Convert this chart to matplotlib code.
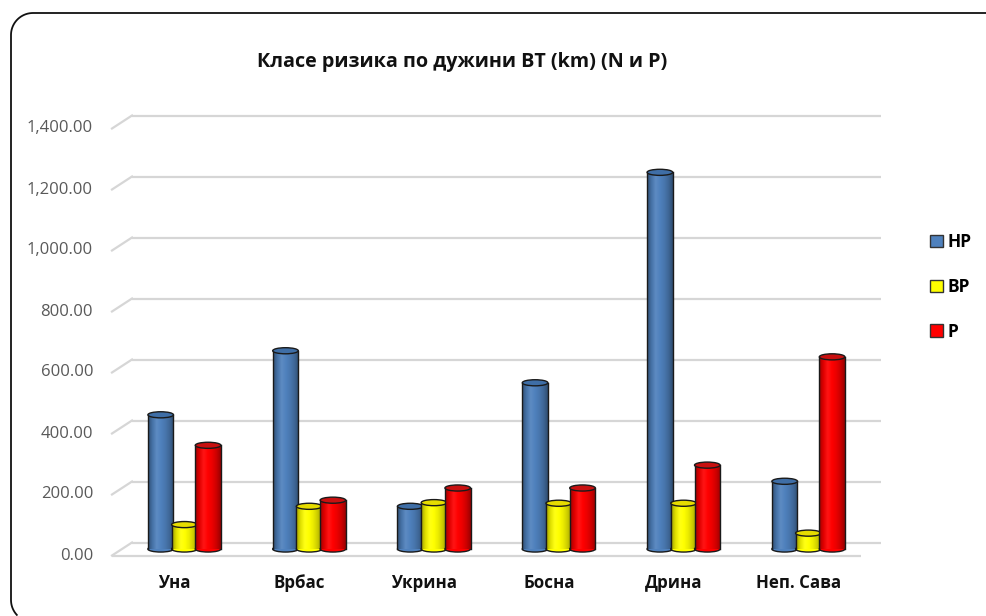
import matplotlib
matplotlib.use("Agg")
import matplotlib.pyplot as plt
import numpy as np
from matplotlib.patches import Ellipse, Patch
from matplotlib.transforms import offset_copy, IdentityTransform
from matplotlib.colors import LinearSegmentedColormap, to_rgb

plt.rcParams['font.family'] = ['Open Sans', 'DejaVu Sans']

# --- data -------------------------------------------------------------
title = "Класе ризика по дужини ВТ (km) (N и P)"
categories = ["Уна", "Врбас", "Укрина", "Босна", "Дрина", "Неп. Сава"]
series_names = ["НР", "ВР", "Р"]
hp_values = [440, 650, 140, 545, 1235, 222]
bp_values = [80, 140, 152, 150, 150, 52]
p_values = [340, 160, 200, 200, 275, 630]
y_ticks = [0, 200, 400, 600, 800, 1000, 1200, 1400]

series_values = [hp_values, bp_values, p_values]
side_colors = ["#4f81bd", "#ffff00", "#ff0000"]
top_colors = ["#3f6ea6", "#e6dc00", "#c81010"]

# --- figure -----------------------------------------------------------
W, H = 987, 616
fig = plt.figure(figsize=(W / 100, H / 100), dpi=100)
fig.patch.set_facecolor("white")

# rounded chart-area border: top edge, left edge and the two left corners
r = 22
left_x, top_y, bot_y = 11, H - 13, -6
t1 = np.linspace(np.pi / 2, np.pi, 20)
t2 = np.linspace(np.pi, 1.5 * np.pi, 20)
bx = np.concatenate([[W - 1], left_x + r + r * np.cos(t1),
                     left_x + r + r * np.cos(t2)])
by = np.concatenate([[top_y], top_y - r + r * np.sin(t1),
                     bot_y + r + r * np.sin(t2)])
keep = by >= 0
fig.add_artist(plt.Line2D(bx[keep], by[keep], transform=IdentityTransform(),
                          color="#111111", lw=1.3))

# plot area at mid depth of the 3-D box
ax = fig.add_axes([122 / W, 67 / H, 748.8 / W, 427 / H])
ax.set_xlim(-0.5, len(categories) - 0.5)
ax.set_ylim(0, 1400)
ax.axis("off")

depth_dx, depth_dy = 10, 6.5
back = offset_copy(ax.transData, fig, x=depth_dx, y=depth_dy, units="dots")
front = offset_copy(ax.transData, fig, x=-depth_dx, y=-depth_dy, units="dots")

grid_color = "#d6d6d6"
x0, x1 = -0.5, len(categories) - 0.5
for v in y_ticks:
    ax.plot([x0, x1], [v, v], transform=back, color=grid_color,
            lw=1.6, clip_on=False, zorder=0, solid_capstyle="butt")
    pf = front.transform((x0, v))
    pb = back.transform((x0, v))
    fig.add_artist(plt.Line2D([pf[0], pb[0]], [pf[1], pb[1]],
                              transform=IdentityTransform(),
                              color=grid_color, lw=1.6))
    ax.text(x0, v, f"{v:,.2f}",
            transform=offset_copy(ax.transData, fig, x=-depth_dx - 19,
                                  y=-depth_dy, units="dots"),
            ha="right", va="center", fontsize=12, color="#595959")

# floor front edge
ax.plot([x0, x1], [0, 0], transform=front, color=grid_color, lw=1.6,
        clip_on=False, zorder=0, solid_capstyle="butt")


def shade_cmap(color):
    r, g, b = to_rgb(color)
    stops = [0.62, 0.88, 1.02, 1.0, 0.92, 0.8, 0.6]
    cols = []
    for s in stops:
        if s > 1:
            cols.append(tuple(min(1, c + (1 - c) * (s - 1) * 4) for c in (r, g, b)))
        else:
            cols.append((r * s, g * s, b * s))
    return LinearSegmentedColormap.from_list("cyl", cols)


bar_w = 0.205
step = 0.19
ell_h = 20
edge = "#1a1a1a"
grad = np.linspace(0, 1, 64).reshape(1, -1)

for si, (vals, sc, tc) in enumerate(zip(series_values, side_colors, top_colors)):
    cmap = shade_cmap(sc)
    for ci, v in enumerate(vals):
        xc = ci + (si - 1) * step
        z = 2 + si
        left, right = xc - bar_w / 2, xc + bar_w / 2
        ax.add_patch(Ellipse((xc, 0), bar_w, ell_h, facecolor=sc,
                             edgecolor=edge, lw=1.0, zorder=z, clip_on=False))
        ax.imshow(grad, cmap=cmap, extent=(left, right, 0, v), aspect="auto",
                  origin="lower", zorder=z + 0.1, interpolation="bilinear")
        ax.plot([left, left], [0, v], color=edge, lw=1.0, zorder=z + 0.2,
                clip_on=False)
        ax.plot([right, right], [0, v], color=edge, lw=1.0, zorder=z + 0.2,
                clip_on=False)
        ax.add_patch(Ellipse((xc, v), bar_w, ell_h, facecolor=tc,
                             edgecolor=edge, lw=1.0, zorder=z + 0.3,
                             clip_on=False))

ax.set_xlim(x0, x1)
ax.set_ylim(0, 1400)

# category labels along the front edge
for ci, cat in enumerate(categories):
    ax.text(ci, 0, cat,
            transform=offset_copy(ax.transData, fig, x=-depth_dx,
                                  y=-depth_dy - 27, units="dots"),
            ha="center", va="center", fontsize=12.2, fontweight="bold",
            color="#111111")

fig.text(462 / W, 1 - 62 / H, title, ha="center", va="center",
         fontsize=14.2, fontweight="bold", color="#111111")

handles = [Patch(facecolor=c, edgecolor="#333333", lw=1.0) for c in side_colors]
fig.legend(handles, series_names, loc="center left",
           bbox_to_anchor=(921 / W, 1 - 287 / H), frameon=False,
           prop={"weight": "bold", "size": 12.5},
           handlelength=0.75, handleheight=0.75, handletextpad=0.3,
           labelspacing=1.55, borderpad=0)

fig.savefig("out.png", dpi=100, facecolor="white")
